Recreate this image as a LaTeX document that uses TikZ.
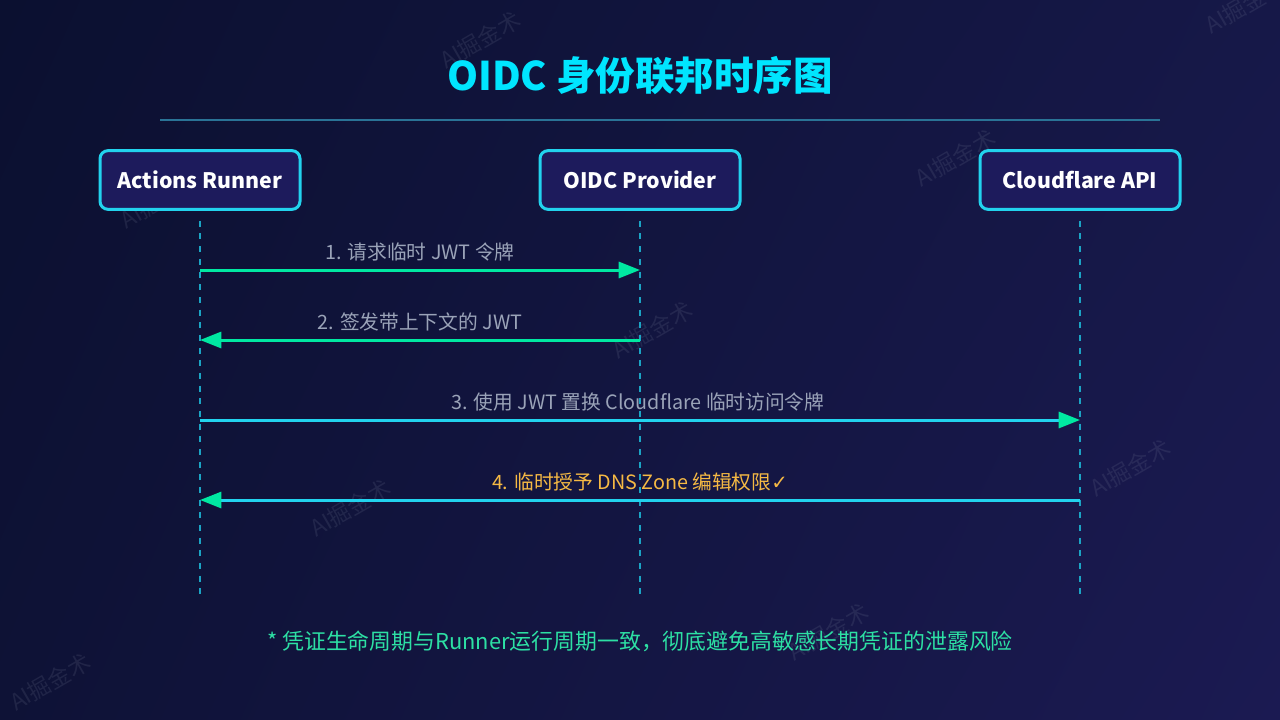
\documentclass[tikz,border=0pt]{standalone}
\usepackage{fontspec}
\setmainfont{Noto Sans CJK SC}
\newfontfamily\symfont{DejaVu Sans}
\usetikzlibrary{arrows.meta,shadings}
\definecolor{bgA}{HTML}{0B1030}
\definecolor{bgB}{HTML}{161848}
\definecolor{bgC}{HTML}{1B1A52}
\definecolor{bgD}{HTML}{0E1236}
\definecolor{titlecyan}{HTML}{00E5FF}
\definecolor{boxfill}{HTML}{1D1B5C}
\definecolor{boxline}{HTML}{22D3EE}
\definecolor{lifeline}{HTML}{1BA4C4}
\definecolor{sepline}{HTML}{2A7396}
\definecolor{msggreen}{HTML}{00E8A2}
\definecolor{msgcyan}{HTML}{22D3EE}
\definecolor{labelgray}{HTML}{9AA3B8}
\definecolor{labelorange}{HTML}{F5B944}
\definecolor{footgreen}{HTML}{2DE0A4}
\definecolor{wmgray}{HTML}{8890A8}
\tikzset{
  actor/.style={draw=boxline, line width=2.25pt, fill=boxfill, rounded corners=6pt,
    minimum width=150pt, minimum height=44pt, inner sep=0pt,
    text=white, font=\fontsize{16}{19}\selectfont\bfseries},
  lifelinestyle/.style={draw=lifeline, line width=2pt, dash pattern=on 4.5pt off 5pt},
  msgline/.style={line width=2.25pt, -{Triangle[length=16pt,width=12pt,color=msggreen]}},
  msglabel/.style={font=\fontsize{14.8}{17}\selectfont, text=labelgray, inner sep=0pt},
  watermark/.style={font=\fontsize{17}{20}\selectfont, text=wmgray, opacity=0.15, rotate=30, inner sep=0pt}
}
\begin{document}
\begin{tikzpicture}[x=0.75pt, y=-0.75pt]
\useasboundingbox (0,0) rectangle (1280,720);
\shade[upper left=bgA, upper right=bgB, lower left=bgD, lower right=bgC] (0,0) rectangle (1280,720);

% watermarks
\node[watermark] (w1) at (480,40) {AI掘金术};
\node[watermark] (w2) at (1245,5) {AI掘金术};
\node[watermark] (w3) at (160,200) {AI掘金术};
\node[watermark] (w4) at (955,158) {AI掘金术};
\node[watermark] (w5) at (652,330) {AI掘金术};
\node[watermark] (w6) at (350,508) {AI掘金术};
\node[watermark] (w7) at (1130,468) {AI掘金术};
\node[watermark] (w8) at (828,632) {AI掘金术};
\node[watermark] (w9) at (50,682) {AI掘金术};

% title
\node[font=\fontsize{29.6}{33}\selectfont\bfseries, text=titlecyan, inner sep=0pt] (title) at (640,76) {OIDC 身份联邦时序图};
\coordinate (sepL) at (160,120);
\coordinate (sepR) at (1160,120);
\draw[sepline, line width=1.5pt] (sepL) -- (sepR);

% actors
\node[actor] (runner) at (200,180) {Actions Runner};
\node[actor] (oidc) at (640,180) {OIDC Provider};
\node[actor] (cf) at (1080,180) {Cloudflare API};

% lifelines
\coordinate (runnerEnd) at (200,598);
\coordinate (oidcEnd) at (640,598);
\coordinate (cfEnd) at (1080,598);
\draw[lifelinestyle] ([yshift=-7.5pt]runner.south) -- (runnerEnd);
\draw[lifelinestyle] ([yshift=-7.5pt]oidc.south) -- (oidcEnd);
\draw[lifelinestyle] ([yshift=-7.5pt]cf.south) -- (cfEnd);

% message anchor points
\coordinate (r1) at (200,270); \coordinate (o1) at (640,270);
\coordinate (r2) at (200,340); \coordinate (o2) at (640,340);
\coordinate (r3) at (200,420); \coordinate (c3) at (1080,420);
\coordinate (r4) at (200,500); \coordinate (c4) at (1080,500);

% messages
\draw[msgline, draw=msggreen] (r1) -- (o1);
\node[msglabel] (m1) at (420,252) {1. 请求临时 JWT 令牌};
\draw[msgline, draw=msggreen] (o2) -- (r2);
\node[msglabel] (m2) at (420,322) {2. 签发带上下文的 JWT};
\draw[msgline, draw=msgcyan] (r3) -- (c3);
\node[msglabel] (m3) at (638,402) {3. 使用 JWT 置换 Cloudflare 临时访问令牌};
\draw[msgline, draw=msgcyan] (c4) -- (r4);
\node[msglabel, text=labelorange] (m4) at (640,482) {4. 临时授予 DNS Zone 编辑权限{\symfont ✓}};

% footer
\node[font=\fontsize{16.4}{19}\selectfont, text=footgreen, inner sep=0pt] (foot) at (640,641) {* 凭证生命周期与Runner运行周期一致，彻底避免高敏感长期凭证的泄露风险};
\end{tikzpicture}
\end{document}
